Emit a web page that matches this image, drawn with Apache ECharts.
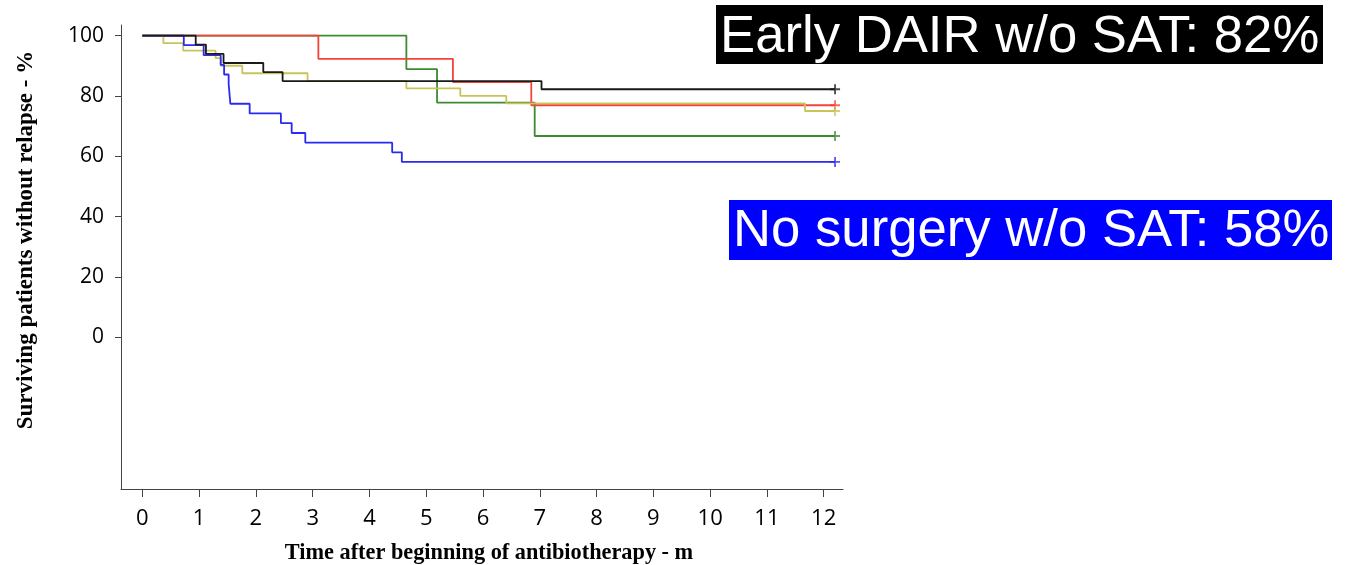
<!DOCTYPE html>
<html>
<head>
<meta charset="utf-8">
<script src="https://cdn.jsdelivr.net/npm/echarts@6/dist/echarts.min.js"></script>
<style>
html,body{margin:0;padding:0;background:#fff;}
#chart{width:1352px;height:565px;}
</style>
</head>
<body>
<div id="chart"></div>
<script>
// ---- data ----
const xTicks = [0,1,2,3,4,5,6,7,8,9,10,11,12];
const yTicks = [0,20,40,60,80,100];

const blackTime = [0, 0.94, 1.12, 1.43, 2.13, 2.47, 7.03, 12.2];
const blackSurv = [100, 97.0, 93.9, 90.9, 87.9, 84.9, 82.2, 82.2];

const redTime = [0, 3.10, 5.47, 6.85, 12.2];
const redSurv = [100, 92.3, 84.6, 76.9, 76.9];

const greenTime = [0, 4.65, 5.19, 6.91, 12.2];
const greenSurv = [100, 88.9, 77.8, 66.7, 66.7];

const yellowTime = [0, 0.37, 0.72, 1.29, 1.38, 1.76, 2.91, 4.65, 5.60, 6.41, 11.67, 12.2];
const yellowSurv = [100, 97.5, 95.0, 92.5, 90.0, 87.5, 85.0, 82.5, 80.0, 77.5, 75.0, 75.0];

const blueTime = [0, 0.73, 1.08, 1.38, 1.44, 1.52, 1.55, 1.89, 2.44, 2.63, 2.87, 4.40, 4.57, 12.2];
const blueSurv = [100, 96.8, 93.5, 90.3, 87.1, 83.9, 77.4, 74.2, 71.0, 67.7, 64.5, 61.3, 58.1, 58.1];

const xTitle = 'Time after beginning of antibiotherapy - m';
const yTitle = 'Surviving patients without relapse - %';
const note1 = 'Early DAIR w/o SAT: 82%';
const note2 = 'No surgery w/o SAT: 58%';

// ---- build ----
const curves = [
  {name:'green', t:greenTime, s:greenSurv, color:'#3d8b30'},
  {name:'red', t:redTime, s:redSurv, color:'#f2443a'},
  {name:'yellow', t:yellowTime, s:yellowSurv, color:'#c8c45a'},
  {name:'blue', t:blueTime, s:blueSurv, color:'#2a2af2'},
  {name:'black', t:blackTime, s:blackSurv, color:'#1a1a1a'}
];
const zip = (t,s) => t.map((v,i)=>[v,s[i]]);
const plus = 'path://M4.1,0H5.9V4.1H10V5.9H5.9V10H4.1V5.9H0V4.1H4.1Z';

const series = curves.map(c => ({
  type:'line', name:c.name, step:'end', symbol:'none', silent:true,
  data: zip(c.t, c.s),
  lineStyle:{color:c.color, width:1.8},
  animation:false
}));
series.push({
  type:'scatter', symbol:plus, symbolSize:10, silent:true, animation:false, z:5,
  data: curves.map(c => ({value:[c.t[c.t.length-1], c.s[c.s.length-1]], itemStyle:{color:c.color}}))
});

const chart = echarts.init(document.getElementById('chart'), null, {renderer:'canvas'});
chart.setOption({
  backgroundColor:'#fff',
  animation:false,
  grid:{left:121, right:509, top:25, bottom:76},
  xAxis:{
    type:'value', min:-0.376, max:12.34,
    axisLine:{show:true, onZero:false, lineStyle:{color:'#444', width:1}},
    axisTick:{show:true, inside:false, length:8, customValues:xTicks, lineStyle:{color:'#444'}},
    axisLabel:{customValues:xTicks, margin:19, fontSize:22, fontFamily:'"Open Sans"', color:'#000'},
    splitLine:{show:false}
  },
  yAxis:{
    type:'value', min:-50.3, max:103.5,
    axisLine:{show:true, onZero:false, lineStyle:{color:'#444', width:1}},
    axisTick:{show:true, inside:false, length:6, customValues:yTicks, lineStyle:{color:'#444'}},
    axisLabel:{customValues:yTicks, margin:17, fontSize:21, fontFamily:'"Open Sans"', color:'#000'},
    splitLine:{show:false}
  },
  series: series,
  graphic:[
    {type:'text', x:489, y:553, style:{text:xTitle, fontSize:22.3, fontWeight:'bold', fontFamily:'"Liberation Serif"', fill:'#000', textAlign:'center', textVerticalAlign:'middle'}},
    {type:'text', x:26, y:240, rotation:Math.PI/2, style:{text:yTitle, fontSize:23, fontWeight:'bold', fontFamily:'"Liberation Serif"', fill:'#000', textAlign:'center', textVerticalAlign:'middle'}},
    {type:'rect', shape:{x:716, y:5, width:607, height:59}, style:{fill:'#000'}},
    {type:'text', x:720, y:37, style:{text:note1, fontSize:52.7, fontFamily:'"Liberation Sans"', fill:'#fff', textAlign:'left', textVerticalAlign:'middle'}},
    {type:'rect', shape:{x:729, y:200, width:603, height:60}, style:{fill:'#0000ff'}},
    {type:'text', x:733, y:231, style:{text:note2, fontSize:52.7, fontFamily:'"Liberation Sans"', fill:'#fff', textAlign:'left', textVerticalAlign:'middle'}}
  ]
});
</script>
</body>
</html>
